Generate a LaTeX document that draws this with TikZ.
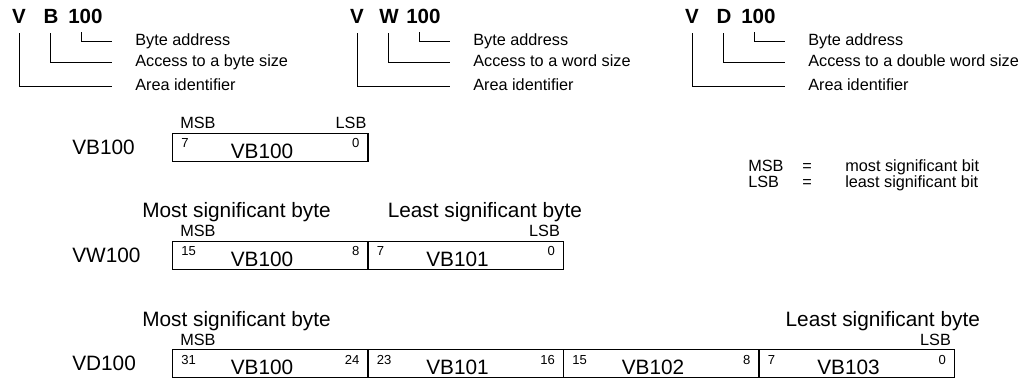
\documentclass[tikz,border=0pt]{standalone}
\usepackage{fontspec}
\setmainfont{Liberation Sans}
\usetikzlibrary{calc}

\begin{document}
\begin{tikzpicture}[x=0.75pt, y=-0.75pt,
    cell/.style={rectangle, draw=black, line width=0.9pt, minimum width=146.6pt, minimum height=21pt, inner sep=0pt, anchor=north west},
    big/.style={font=\fontsize{15.6}{18}\selectfont, inner sep=0pt},
    desc/.style={font=\fontsize{12.2}{14}\selectfont, inner sep=0pt, anchor=base west},
    bitno/.style={font=\fontsize{9.8}{11}\selectfont, inner sep=0pt},
    addr/.style={font=\bfseries\fontsize{15.4}{17}\selectfont, inner sep=0pt, anchor=base},
    conn/.style={draw=black, line width=0.75pt}]
    \useasboundingbox (0,0) rectangle (1029,381);

    % address formats
    \foreach \ox/\sz/\nm/\gid in {0/B/byte/b, 338/W/word/w, 673/D/double word/d} {
        \node[addr] (V\gid) at (\ox+19,24) {V};
        \node[addr] (S\gid) at (\ox+51,24) {\sz};
        \node[addr, anchor=base west] (N\gid) at (\ox+68,24) {100};
        \node[desc] (byte\gid) at (\ox+135,46) {Byte address};
        \node[desc] (acc\gid) at (\ox+135,67) {Access to a \nm\ size};
        \node[desc] (area\gid) at (\ox+135,91) {Area identifier};
        \draw[conn] ($(N\gid.south west)+(13,8)$) |- ($(byte\gid.base west)+(-23,-4)$);
        \draw[conn] ($(S\gid.south)+(-1,9)$) |- ($(acc\gid.base west)+(-23,-4)$);
        \draw[conn] ($(V\gid.south)+(0,9)$) |- ($(area\gid.base west)+(-23,-4)$);
    }

    % legend
    \node[desc] (lgMSB) at (748,172) {MSB};
    \node[desc, anchor=base] (lgEq1) at (807,172) {=};
    \node[desc] (lgMSBt) at (845,172) {most significant bit};
    \node[desc] (lgLSB) at (748,188) {LSB};
    \node[desc, anchor=base] (lgEq2) at (807,188) {=};
    \node[desc] (lgLSBt) at (845,188) {least significant bit};

    % byte access
    \node[big, anchor=west] (lblVB) at (72,147) {VB100};
    \node[cell] (vb0) at (172,133) {};
    \node[bitno, anchor=base west] (vbh0) at ($(vb0.north west)+(9,15)$) {7};
    \node[bitno, anchor=base east] (vbl0) at ($(vb0.north east)+(-9,15)$) {0};
    \node[big, anchor=base] (vbn0) at ($(vb0.south west)+(90,-4)$) {VB100};
    \node[desc] (msbB) at ($(vb0.north west)+(8,-4)$) {MSB};
    \node[desc, anchor=base east] (lsbB) at ($(vb0.north east)+(-2,-4)$) {LSB};

    % word access
    \node[big, anchor=west] (lblVW) at (72,255) {VW100};
    \foreach \i/\hi/\lo in {0/15/8, 1/7/0} {
        \node[cell] (vw\i) at (172+195.5*\i,241) {};
        \node[bitno, anchor=base west] (vwh\i) at ($(vw\i.north west)+(9,15)$) {\hi};
        \node[bitno, anchor=base east] (vwl\i) at ($(vw\i.north east)+(-9,15)$) {\lo};
        \node[big, anchor=base] (vwn\i) at ($(vw\i.south west)+(90,-4)$) {VB10\i};
    }
    \node[desc] (msbW) at ($(vw0.north west)+(8,-4)$) {MSB};
    \node[desc, anchor=base east] (lsbW) at ($(vw1.north east)+(-4,-4)$) {LSB};
    \node[big, anchor=base west] (mostW) at ($(vw0.north west)+(-30,-23)$) {Most significant byte};
    \node[big, anchor=base west] (leastW) at ($(vw1.north west)+(20,-23)$) {Least significant byte};

    % double word access
    \node[big, anchor=west] (lblVD) at (72,363) {VD100};
    \foreach \i/\hi/\lo in {0/31/24, 1/23/16, 2/15/8, 3/7/0} {
        \node[cell] (vd\i) at (172+195.5*\i,349) {};
        \node[bitno, anchor=base west] (vdh\i) at ($(vd\i.north west)+(9,15)$) {\hi};
        \node[bitno, anchor=base east] (vdl\i) at ($(vd\i.north east)+(-9,15)$) {\lo};
        \node[big, anchor=base] (vdn\i) at ($(vd\i.south west)+(90,-4)$) {VB10\i};
    }
    \node[desc] (msbD) at ($(vd0.north west)+(8,-4)$) {MSB};
    \node[desc, anchor=base east] (lsbD) at ($(vd3.north east)+(-4,-4)$) {LSB};
    \node[big, anchor=base west] (mostD) at ($(vd0.north west)+(-30,-23)$) {Most significant byte};
    \node[big, anchor=base east] (leastD) at ($(vd3.north east)+(25,-23)$) {Least significant byte};
\end{tikzpicture}
\end{document}
